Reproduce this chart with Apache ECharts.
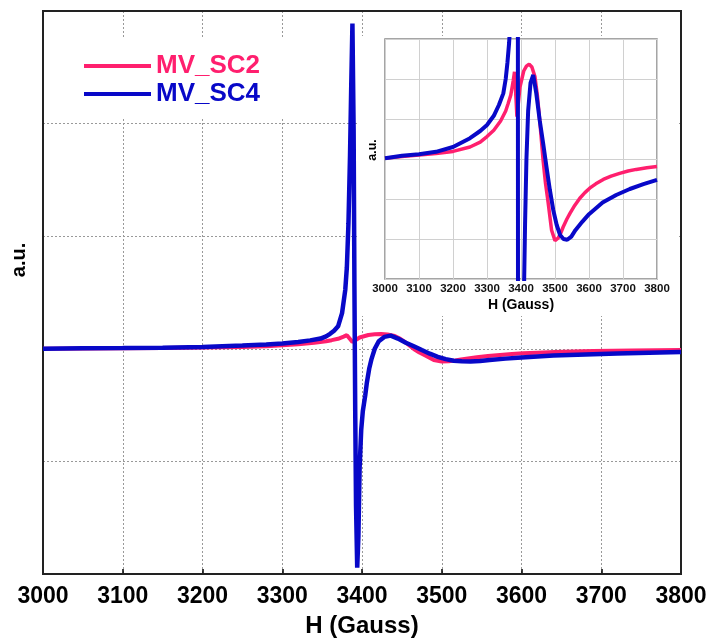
<!DOCTYPE html>
<html>
<head>
<meta charset="utf-8">
<script src="https://cdn.jsdelivr.net/npm/echarts@6/dist/echarts.min.js"></script>
<style>
html,body{margin:0;padding:0;background:#fff;}
#chart{width:710px;height:643px;}
</style>
</head>
<body>
<div id="chart"></div>
<script>
// X tick labels
var xTicks = [3000, 3100, 3200, 3300, 3400, 3500, 3600, 3700, 3800];
var seriesNames = ['MV_SC2', 'MV_SC4'];

// MV_SC2 (pink): field (Gauss) and amplitude (a.u.)
var fieldSC2 = [3000,3050,3100,3150,3200,3250,3280,3300,3320,3340,3355,3362,3370,3377,3381,3383,3386,3388,3391,3397,3408,3416,3424,3432,3441,3448,3455,3465,3472,3480,3490,3500,3509,3517,3524,3535,3544,3558,3573,3588,3602,3620,3642,3665,3690,3715,3739,3770,3800];
var ampSC2   = [0.02,0.06,0.10,0.14,0.19,0.30,0.42,0.56,0.72,0.95,1.20,1.38,1.60,1.95,2.18,2.22,1.40,1.06,1.30,1.80,2.20,2.32,2.37,2.30,2.06,1.60,0.97,-0.03,-0.60,-1.10,-1.78,-2.04,-1.98,-1.85,-1.70,-1.50,-1.36,-1.16,-0.98,-0.84,-0.73,-0.62,-0.51,-0.43,-0.36,-0.30,-0.26,-0.22,-0.19];

// MV_SC4 (blue)
var fieldSC4 = [3000,3050,3100,3150,3200,3250,3280,3300,3320,3335,3348,3355,3360,3365,3370,3375,3379,3381,3383,3385,3386.5,3388,3389.5,3390.5,3391.5,3392.5,3394,3395.5,3397,3399,3401,3404,3406,3409,3412,3416,3421,3428,3436,3445,3455,3465,3475,3485,3495,3505,3515,3525,3536,3548,3560,3580,3600,3640,3680,3720,3760,3800];
var ampSC4   = [0.02,0.08,0.12,0.18,0.30,0.52,0.70,0.85,1.08,1.35,1.64,2.00,2.40,2.90,3.60,5.70,9.40,13.0,20.0,31.0,42.0,52.0,35.0,10.0,-10.0,-25.0,-35.0,-30.0,-19.0,-13.0,-10.0,-7.5,-5.5,-3.2,-1.6,0.0,1.2,1.9,2.1,1.64,0.97,0.40,-0.20,-0.78,-1.28,-1.65,-1.90,-2.00,-2.02,-1.94,-1.78,-1.57,-1.38,-1.09,-0.90,-0.75,-0.63,-0.52];

function zip(xs, ys) { return xs.map(function (x, i) { return [x, ys[i]]; }); }
function plain(v) { return String(v); }

var PINK = '#ff1f6e';
var BLUE = '#0808c8';
var FONT = "'Liberation Sans', Arial, sans-serif";

var chart = echarts.init(document.getElementById('chart'), null, {renderer: 'canvas'});

var option = {
  animation: false,
  backgroundColor: '#ffffff',
  grid: [
    {left: 43, top: 11, right: 29, bottom: 69, show: true, borderColor: '#222', borderWidth: 2, z: 2},
    {left: 385, top: 39, right: 53, bottom: 364, show: true, borderColor: '#888', borderWidth: 1.5, backgroundColor: '#fff', z: 4}
  ],
  legend: {
    orient: 'vertical', left: 79, top: 48, itemWidth: 67, itemHeight: 4, itemGap: 2,
    icon: 'rect', z: 6,
    textStyle: {fontFamily: FONT, fontSize: 26, fontWeight: 'bold'},
    data: [
      {name: seriesNames[0], textStyle: {color: PINK}},
      {name: seriesNames[1], textStyle: {color: BLUE}}
    ]
  },
  xAxis: [
    {
      gridIndex: 0, type: 'value', min: xTicks[0], max: xTicks[xTicks.length - 1], interval: 100,
      name: 'H (Gauss)', nameLocation: 'middle', nameGap: 40,
      nameTextStyle: {fontFamily: FONT, fontSize: 24, fontWeight: 'bold', color: '#000'},
      axisLine: {show: false, onZero: false},
      axisTick: {show: true, inside: true, length: 5, lineStyle: {color: '#000', width: 1.5}},
      axisLabel: {fontFamily: FONT, fontSize: 23, fontWeight: 'bold', color: '#000', margin: 11, formatter: plain},
      splitLine: {show: true, lineStyle: {color: '#999', type: [2, 2], width: 1}}
    },
    {
      gridIndex: 1, type: 'value', min: xTicks[0], max: xTicks[xTicks.length - 1], interval: 100, z: 4,
      name: 'H (Gauss)', nameLocation: 'middle', nameGap: 19,
      nameTextStyle: {fontFamily: FONT, fontSize: 14, fontWeight: 'bold', color: '#000'},
      axisLine: {show: false, onZero: false},
      axisTick: {show: false},
      axisLabel: {fontFamily: FONT, fontSize: 11.5, fontWeight: 'bold', color: '#111', margin: 4, formatter: plain},
      splitLine: {show: true, lineStyle: {color: '#d0d0d0', width: 1}}
    }
  ],
  yAxis: [
    {
      gridIndex: 0, type: 'value', min: -36, max: 54, interval: 18,
      axisLine: {show: false, onZero: false}, axisTick: {show: false}, axisLabel: {show: false},
      splitLine: {show: true, lineStyle: {color: '#999', type: [2, 2], width: 1}}
    },
    {
      gridIndex: 1, type: 'value', min: -3, max: 3, interval: 1, z: 4,
      name: 'a.u.', nameLocation: 'middle', nameGap: 6, nameRotate: 90,
      nameTextStyle: {fontFamily: FONT, fontSize: 12.5, fontWeight: 'bold', color: '#000', padding: [0, 0, 0, 18]},
      axisLine: {show: false, onZero: false}, axisTick: {show: false}, axisLabel: {show: false},
      splitLine: {show: true, lineStyle: {color: '#d0d0d0', width: 1}}
    }
  ],
  graphic: [
    {type: 'rect', shape: {x: 359, y: 36, width: 320, height: 280}, style: {fill: '#fff'}, z: 3, silent: true},
    {type: 'rect', shape: {x: 46, y: 37, width: 250, height: 80}, style: {fill: '#fff'}, z: 3, silent: true},
    {type: 'text', x: 19, y: 260, rotation: Math.PI / 2, z: 6,
      style: {text: 'a.u.', font: 'bold 20px ' + FONT, fill: '#000', textAlign: 'center', textVerticalAlign: 'middle'}}
  ],
  series: [
    {name: seriesNames[0], type: 'line', xAxisIndex: 0, yAxisIndex: 0, z: 2, showSymbol: false, symbol: 'none',
      color: PINK, lineStyle: {width: 4, color: PINK}, data: zip(fieldSC2, ampSC2)},
    {name: seriesNames[1], type: 'line', xAxisIndex: 0, yAxisIndex: 0, z: 2, showSymbol: false, symbol: 'none',
      color: BLUE, lineStyle: {width: 4.5, color: BLUE}, data: zip(fieldSC4, ampSC4)},
    {name: seriesNames[0], type: 'line', xAxisIndex: 1, yAxisIndex: 1, z: 5, showSymbol: false, symbol: 'none',
      color: PINK, lineStyle: {width: 3.5, color: PINK}, data: zip(fieldSC2, ampSC2)},
    {name: seriesNames[1], type: 'line', xAxisIndex: 1, yAxisIndex: 1, z: 5, showSymbol: false, symbol: 'none',
      color: BLUE, lineStyle: {width: 4, color: BLUE}, data: zip(fieldSC4, ampSC4)}
  ]
};
chart.setOption(option);
</script>
</body>
</html>
